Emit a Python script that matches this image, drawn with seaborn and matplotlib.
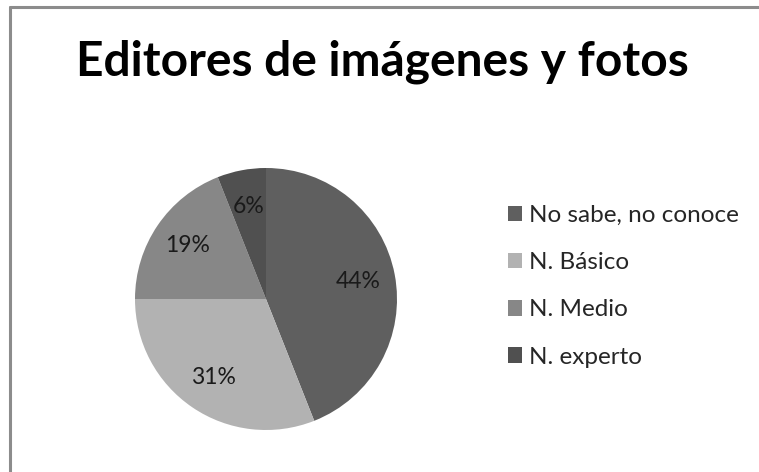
import matplotlib
matplotlib.use("Agg")
import matplotlib.pyplot as plt
import seaborn as sns
from matplotlib.lines import Line2D
from matplotlib.patches import Patch

# datos del gráfico
categorias = ["No sabe, no conoce", "N. Básico", "N. Medio", "N. experto"]
porcentajes = [44, 31, 19, 6]
colores = ["#5f5f5f", "#b2b2b2", "#878787", "#505050"]
titulo = "Editores de imágenes y fotos"

sns.set_theme(style="white")
plt.rcParams["font.family"] = ["Lato", "DejaVu Sans"]

fig = plt.figure(figsize=(7.59, 4.72), dpi=100)
fig.patch.set_facecolor("white")

# borde del área del gráfico (solo izquierda y arriba visibles)
fig.add_artist(Line2D([10 / 759, 10 / 759], [0, 1 - 7 / 472], color="#8c8c8c", lw=2.2))
fig.add_artist(Line2D([10 / 759, 1], [1 - 7 / 472, 1 - 7 / 472], color="#8c8c8c", lw=2.2))

fig.text(382 / 759, 1 - 62 / 472, titulo, ha="center", va="center",
         fontsize=34.5, fontweight="bold", color="black")

ax = fig.add_axes([(266 - 131) / 759, 1 - (299 + 131) / 472, 262 / 759, 262 / 472])
wedges, textos, autotextos = ax.pie(
    porcentajes, colors=colores, startangle=90, counterclock=False,
    autopct="%d%%", pctdistance=0.72,
    wedgeprops={"edgecolor": "none", "linewidth": 0},
    textprops={"fontsize": 16.5, "color": "#1a1a1a"},
)
ax.set_xlim(-1, 1)
ax.set_ylim(-1, 1)
ax.set_aspect("equal")
ax.axis("off")

handles = [Patch(facecolor=c, edgecolor="none") for c in colores]
fig.legend(handles, categorias, loc="upper left",
           bbox_to_anchor=(486 / 759, 1 - 183 / 472), frameon=False,
           fontsize=17.5, handlelength=0.6, handleheight=0.6,
           handletextpad=0.25, labelspacing=1.08)

fig.savefig("out.png", dpi=100, facecolor="white")
